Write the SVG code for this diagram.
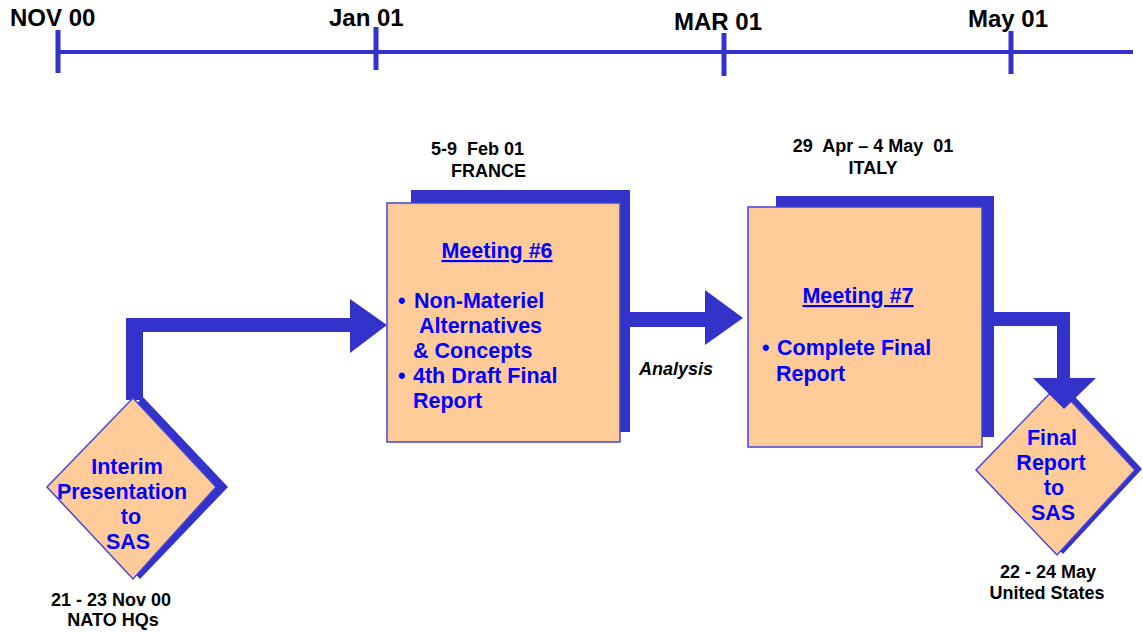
<svg xmlns="http://www.w3.org/2000/svg" width="1143" height="633" viewBox="0 0 1143 633">
  <defs>
    <style>
      .axis { stroke: #3333CC; stroke-width: 4; fill: none; }
      .tick { stroke: #3333CC; stroke-width: 5; fill: none; }
      .month { font-family: "Liberation Sans", Arial, sans-serif; font-weight: bold; font-size: 24px; fill: #000000; }
      .note { font-family: "Liberation Sans", Arial, sans-serif; font-weight: bold; font-size: 18px; fill: #000000; }
      .body { font-family: "Liberation Sans", Arial, sans-serif; font-weight: bold; font-size: 21.5px; fill: #0000FF; }
      .title { text-decoration: underline; }
      .shadow { fill: #3333CC; }
      .face { fill: #FFCC99; stroke: #4444DD; stroke-width: 1.5; }
      .flow { fill: #3333CC; }
    </style>
  </defs>
  <rect width="1143" height="633" fill="#FFFFFF"/>

  <!-- timeline -->
  <g id="timeline">
    <line class="axis" x1="58" y1="52" x2="1133" y2="52"/>
    <line class="tick" x1="58" y1="30" x2="58" y2="73"/>
    <line class="tick" x1="376" y1="27" x2="376" y2="70"/>
    <line class="tick" x1="724" y1="33" x2="724" y2="76"/>
    <line class="tick" x1="1011" y1="31" x2="1011" y2="74"/>
    <text class="month" x="10" y="26">NOV 00</text>
    <text class="month" x="329" y="26">Jan 01</text>
    <text class="month" x="674" y="30">MAR 01</text>
    <text class="month" x="968" y="27">May 01</text>
  </g>

  <!-- connectors -->
  <g id="connectors">
    <!-- interim presentation to meeting 6 -->
    <path class="flow" d="M126,318 H352 V332 H143 V400 H126 Z"/>
    <polygon class="flow" points="350,299 387,325 350,353"/>
    <!-- meeting 6 to meeting 7 (analysis) -->
    <rect class="flow" x="620" y="312" width="87" height="15"/>
    <polygon class="flow" points="705,290 743,318 705,345"/>
    <!-- meeting 7 to final report -->
    <path class="flow" d="M982,312 H1070 V380 H1057 V326 H982 Z"/>
  </g>

  <!-- interim presentation -->
  <g id="interim">
    <polygon class="shadow" points="143,397 228,487 140,579 57,487"/>
    <polygon class="face" points="133,398 216,487 133,579 47,487"/>
    <text class="body" x="127" y="474" text-anchor="middle">Interim</text>
    <text class="body" x="122" y="499" text-anchor="middle">Presentation</text>
    <text class="body" x="131" y="524" text-anchor="middle">to</text>
    <text class="body" x="128" y="549" text-anchor="middle">SAS</text>
    <text class="note" x="111" y="606" text-anchor="middle">21 - 23 Nov 00</text>
    <text class="note" x="113" y="626" text-anchor="middle">NATO HQs</text>
  </g>

  <!-- meeting 6 -->
  <g id="meeting6">
    <text class="note" x="431" y="155" xml:space="preserve">5-9  Feb 01</text>
    <text class="note" x="451" y="177">FRANCE</text>
    <rect class="shadow" x="411" y="190" width="219" height="242"/>
    <rect class="face" x="387" y="203" width="233" height="239"/>
    <text class="body title" x="497" y="258" text-anchor="middle">Meeting #6</text>
    <text class="body" y="308"><tspan x="398">•</tspan><tspan x="414">Non-Materiel</tspan></text>
    <text class="body" x="419" y="333">Alternatives</text>
    <text class="body" x="413" y="358">&amp; Concepts</text>
    <text class="body" y="383"><tspan x="398">•</tspan><tspan x="413">4th Draft Final</tspan></text>
    <text class="body" x="413" y="408">Report</text>
  </g>

  <!-- analysis label -->
  <g id="analysis">
    <text class="note" x="639" y="375" font-style="italic">Analysis</text>
  </g>

  <!-- meeting 7 -->
  <g id="meeting7">
    <text class="note" x="873" y="152" text-anchor="middle" xml:space="preserve">29  Apr – 4 May  01</text>
    <text class="note" x="873" y="174" text-anchor="middle">ITALY</text>
    <rect class="shadow" x="776" y="196" width="218" height="241"/>
    <rect class="face" x="748" y="207" width="234" height="240"/>
    <text class="body title" x="858" y="303" text-anchor="middle">Meeting #7</text>
    <text class="body" y="355"><tspan x="762">•</tspan><tspan x="777">Complete Final</tspan></text>
    <text class="body" x="776" y="381">Report</text>
  </g>

  <!-- final report -->
  <g id="final">
    <polygon class="shadow" points="1064,385 1142,469 1063,554 985,469"/>
    <polygon class="face" points="1057,386 1135,470 1057,555 976,470"/>
    <polygon class="flow" points="1033,378 1096,378 1064,409"/>
    <text class="body" x="1052" y="445" text-anchor="middle">Final</text>
    <text class="body" x="1051" y="470" text-anchor="middle">Report</text>
    <text class="body" x="1054" y="495" text-anchor="middle">to</text>
    <text class="body" x="1053" y="520" text-anchor="middle">SAS</text>
    <text class="note" x="1048" y="578" text-anchor="middle">22 - 24 May</text>
    <text class="note" x="1047" y="599" text-anchor="middle">United States</text>
  </g>
</svg>
